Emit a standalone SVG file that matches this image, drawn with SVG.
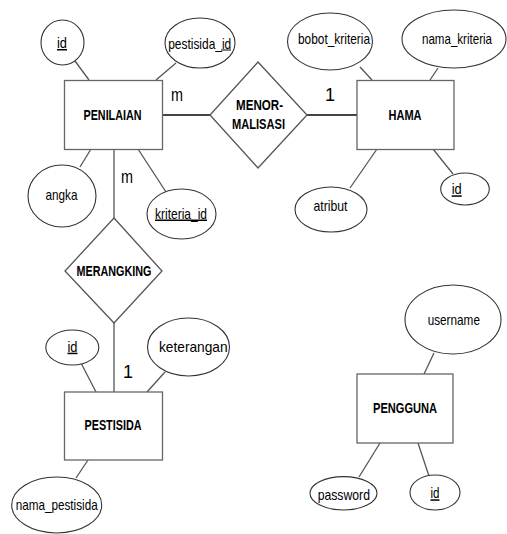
<svg xmlns="http://www.w3.org/2000/svg" width="507" height="534" viewBox="0 0 507 534">
  <style>
    .ent rect { fill: #fff; stroke: #666; stroke-width: 1.3; }
    .rel polygon { fill: #fff; stroke: #555; stroke-width: 1.3; }
    .att ellipse { fill: #fff; stroke: #333; stroke-width: 1.1; }
    text { font-family: "Liberation Sans", Arial, sans-serif; fill: #000; text-anchor: middle; }
    .lbl { font-size: 15px; }
    .key { text-decoration: underline; }
    .big { font-size: 15px; font-weight: bold; }
    .card { font-size: 18px; }
    .uline { stroke: #000; stroke-width: 1; }
    #connectors line { stroke: #555; stroke-width: 1.3; }
    #connectors line.rl { stroke: #444; stroke-width: 2.2; }
  </style>
  <rect width="507" height="534" fill="#fff"/>

  <g id="connectors">
    <!-- PENILAIAN attributes -->
    <line x1="75" y1="61" x2="89" y2="80"/>
    <line x1="176" y1="63" x2="156" y2="80"/>
    <line x1="80" y1="167" x2="91" y2="149"/>
    <line x1="138" y1="149" x2="166" y2="192"/>
    <!-- relationships -->
    <line class="rl" x1="162" y1="115" x2="210" y2="115"/>
    <line class="rl" x1="307" y1="115" x2="357" y2="115"/>
    <line x1="114" y1="149" x2="114" y2="218"/>
    <line x1="114" y1="323" x2="114" y2="392"/>
    <!-- HAMA attributes -->
    <line x1="360" y1="67" x2="372" y2="80"/>
    <line x1="438" y1="68" x2="430" y2="80"/>
    <line x1="350" y1="188" x2="377" y2="149"/>
    <line x1="433" y1="149" x2="453" y2="174"/>
    <!-- PESTISIDA attributes -->
    <line x1="81" y1="363" x2="96" y2="392"/>
    <line x1="165" y1="372" x2="147" y2="392"/>
    <line x1="88" y1="460" x2="76" y2="478"/>
    <!-- PENGGUNA attributes -->
    <line x1="434" y1="353" x2="424" y2="374"/>
    <line x1="359" y1="477" x2="380" y2="443"/>
    <line x1="429" y1="476" x2="418" y2="443"/>
  </g>

  <!-- cardinalities -->
  <text class="card" x="177" y="101" textLength="12" lengthAdjust="spacingAndGlyphs">m</text>
  <text class="card" x="127" y="183" textLength="12" lengthAdjust="spacingAndGlyphs">m</text>
  <text class="card" x="330" y="101">1</text>
  <text class="card" x="128" y="378">1</text>

  <!-- entities -->
  <g id="penilaian" class="ent">
    <rect x="64.5" y="80.5" width="98" height="69"/>
    <text class="big" x="112.5" y="120" textLength="58" lengthAdjust="spacingAndGlyphs">PENILAIAN</text>
  </g>
  <g id="hama" class="ent">
    <rect x="357" y="80.5" width="97" height="69"/>
    <text class="big" x="405" y="120" textLength="33" lengthAdjust="spacingAndGlyphs">HAMA</text>
  </g>
  <g id="pestisida" class="ent">
    <rect x="64.5" y="392" width="98" height="68"/>
    <text class="big" x="113" y="430" textLength="57" lengthAdjust="spacingAndGlyphs">PESTISIDA</text>
  </g>
  <g id="pengguna" class="ent">
    <rect x="357" y="374" width="96" height="69"/>
    <text class="big" x="405" y="413" textLength="64" lengthAdjust="spacingAndGlyphs">PENGGUNA</text>
  </g>

  <!-- relationships -->
  <g id="menormalisasi" class="rel">
    <polygon points="258,62 307,115 258,168 210,115"/>
    <text class="big" x="259.5" y="110" textLength="47" lengthAdjust="spacingAndGlyphs">MENOR-</text>
    <text class="big" x="258.5" y="128.5" textLength="53" lengthAdjust="spacingAndGlyphs">MALISASI</text>
  </g>
  <g id="merangking" class="rel">
    <polygon points="114,218 162,271 114,323 65,271"/>
    <text class="big" x="114" y="276" textLength="75" lengthAdjust="spacingAndGlyphs">MERANGKING</text>
  </g>

  <!-- PENILAIAN attributes -->
  <g id="penilaian-id" class="att">
    <ellipse cx="62.5" cy="42.5" rx="21.5" ry="22.5"/>
    <text class="lbl key" x="62" y="48" textLength="10" lengthAdjust="spacingAndGlyphs">id</text>
  </g>
  <g id="penilaian-pestisida-id" class="att">
    <ellipse cx="200" cy="43" rx="35" ry="25"/>
    <text class="lbl" x="199.7" y="48.5" textLength="63" lengthAdjust="spacingAndGlyphs">pestisida_id</text>
    <line class="uline" x1="221" y1="50" x2="231" y2="50"/>
  </g>
  <g id="penilaian-angka" class="att">
    <ellipse cx="62" cy="196" rx="34" ry="31"/>
    <text class="lbl" x="61.5" y="199.5" textLength="32" lengthAdjust="spacingAndGlyphs">angka</text>
  </g>
  <g id="penilaian-kriteria-id" class="att">
    <ellipse cx="181.5" cy="214" rx="34.5" ry="25"/>
    <text class="lbl key" x="181" y="218.5" textLength="52" lengthAdjust="spacingAndGlyphs">kriteria_id</text>
  </g>

  <!-- HAMA attributes -->
  <g id="hama-bobot-kriteria" class="att">
    <ellipse cx="330" cy="41.5" rx="42.5" ry="28.5"/>
    <text class="lbl" x="334" y="43.5" textLength="72" lengthAdjust="spacingAndGlyphs">bobot_kriteria</text>
  </g>
  <g id="hama-nama-kriteria" class="att">
    <ellipse cx="454" cy="39" rx="52" ry="29"/>
    <text class="lbl" x="457" y="43.5" textLength="70" lengthAdjust="spacingAndGlyphs">nama_kriteria</text>
  </g>
  <g id="hama-atribut" class="att">
    <ellipse cx="331" cy="209.5" rx="36" ry="22.5"/>
    <text class="lbl" x="330.5" y="211" textLength="34" lengthAdjust="spacingAndGlyphs">atribut</text>
  </g>
  <g id="hama-id" class="att">
    <ellipse cx="465" cy="189" rx="24.3" ry="16"/>
    <text class="lbl key" x="456.7" y="194.3" textLength="10" lengthAdjust="spacingAndGlyphs">id</text>
  </g>

  <!-- PESTISIDA attributes -->
  <g id="pestisida-id" class="att">
    <ellipse cx="72.3" cy="347.5" rx="26.5" ry="17.5"/>
    <text class="lbl key" x="72.5" y="351.7" textLength="10" lengthAdjust="spacingAndGlyphs">id</text>
  </g>
  <g id="pestisida-keterangan" class="att">
    <ellipse cx="188.5" cy="347" rx="41" ry="29"/>
    <text class="lbl" x="193.3" y="351.7" textLength="68.7" lengthAdjust="spacingAndGlyphs">keterangan</text>
  </g>
  <g id="pestisida-nama-pestisida" class="att">
    <ellipse cx="56.7" cy="505" rx="45" ry="28"/>
    <text class="lbl" x="56.7" y="510" textLength="82" lengthAdjust="spacingAndGlyphs">nama_pestisida</text>
  </g>

  <!-- PENGGUNA attributes -->
  <g id="pengguna-username" class="att">
    <ellipse cx="453" cy="319.5" rx="48" ry="34.5"/>
    <text class="lbl" x="453.8" y="325" textLength="52.3" lengthAdjust="spacingAndGlyphs">username</text>
  </g>
  <g id="pengguna-password" class="att">
    <ellipse cx="343.5" cy="493.3" rx="33.5" ry="16.7"/>
    <text class="lbl" x="343.8" y="500" textLength="52.3" lengthAdjust="spacingAndGlyphs">password</text>
  </g>
  <g id="pengguna-id" class="att">
    <ellipse cx="435" cy="492.5" rx="25" ry="17.5"/>
    <text class="lbl key" x="435" y="498.3" textLength="9" lengthAdjust="spacingAndGlyphs">id</text>
  </g>
</svg>
